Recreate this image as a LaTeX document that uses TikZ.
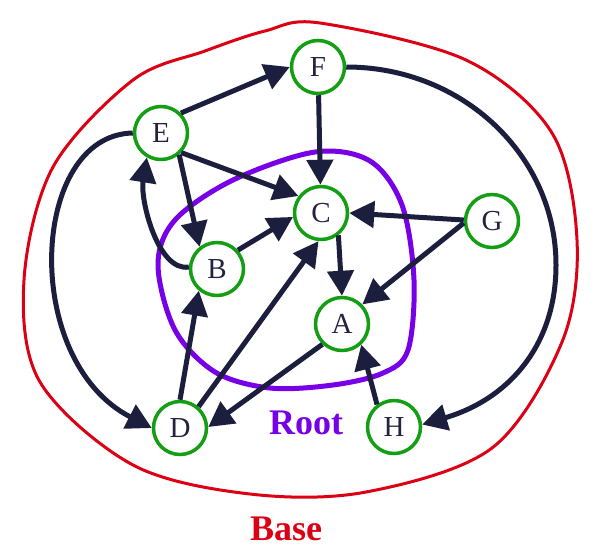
\documentclass[tikz,border=0pt]{standalone}
\usepackage{fontspec}
\setmainfont{Liberation Serif}
\usetikzlibrary{arrows.meta}
\definecolor{nodegreen}{RGB}{20,158,20}
\definecolor{edgenavy}{RGB}{28,30,62}
\definecolor{textnavy}{RGB}{35,35,65}
\definecolor{rootpurple}{RGB}{120,0,230}
\definecolor{basered}{RGB}{220,0,20}
\begin{document}
\begin{tikzpicture}[x=1pt,y=-1pt,
  vertex/.style={circle, draw=nodegreen, line width=3.5pt, minimum size=53pt, inner sep=0pt,
    fill=white, text=textnavy, font=\fontsize{29}{32}\selectfont},
  edge/.style={draw=edgenavy, line width=5pt, -{Triangle[length=25pt,width=26pt]}},
  setlabel/.style={anchor=base, font=\bfseries\fontsize{36}{40}\selectfont}
]
\useasboundingbox (0,0) rectangle (599,555);

% Base region
\draw[basered, line width=3pt] plot[smooth cycle, tension=0.55] coordinates {
  (320,23) (466,60) (552,133) (577,240) (562,342) (492,448) (366,492)
  (250,494) (133,465) (40,382) (24,280) (53,167) (133,80) (205,51) (265,31)};

% Root region
\draw[rootpurple, line width=5pt] plot[smooth cycle, tension=0.55] coordinates {
  (315,152) (370,161) (402,205) (414,280) (408,350) (383,373) (333,385)
  (270,388) (215,372) (175,330) (158,265) (175,220) (233,180)};

\node[setlabel, text=rootpurple] (root) at (306,434) {Root};
\node[setlabel, text=basered] (base) at (286,540) {Base};

% Vertices
\node[vertex] (F) at (318,67) {F};
\node[vertex] (E) at (161,133) {E};
\node[vertex] (C) at (321,213) {C};
\node[vertex] (G) at (492,221) {G};
\node[vertex] (B) at (217,269) {B};
\node[vertex] (A) at (342,324) {A};
\node[vertex] (D) at (180,428) {D};
\node[vertex] (H) at (394,427) {H};

\coordinate (fh) at (556,265);

% Edges
\draw[edge] (E.45) -- (F.180);
\draw[edge] (F) -- (C);
\draw[edge] (E.-44) -- (C.143);
\draw[edge] (E.-50) -- (B.128);
\draw[edge] (B.176) .. controls (158,272) and (140,200) .. (E.240);
\draw[edge] (E.180) .. controls (30,135) and (20,360) .. (D.180);
\draw[edge] (F.0) .. controls (463,67) and (556,156) .. (fh)
            .. controls (556,345) and (509,399) .. (H.5);
\draw[edge] (B.42) -- (C.188);
\draw[edge] (D.90) -- (B.230);
\draw[edge] (D.49) -- (C.265);
\draw[edge] (C.-52) -- (A.90);
\draw[edge] (G.178) -- (C.0);
\draw[edge] (G.184) -- (A.44);
\draw[edge] (A.226) -- (D.2);
\draw[edge] (H.127) -- (A.-47);
\end{tikzpicture}
\end{document}
